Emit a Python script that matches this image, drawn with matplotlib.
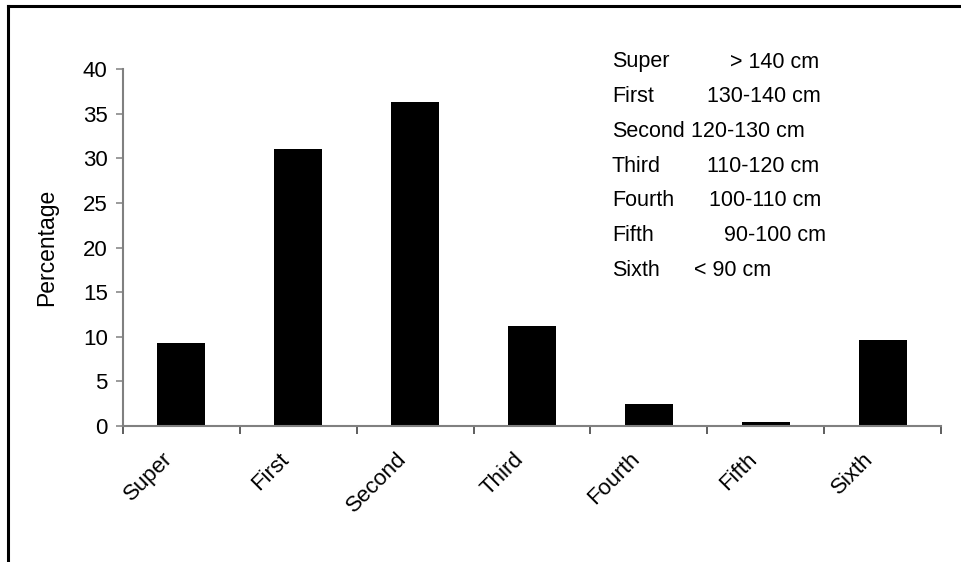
import matplotlib
matplotlib.use('Agg')
import matplotlib.pyplot as plt
import matplotlib.transforms as mtransforms
from matplotlib.lines import Line2D

plt.rcParams['font.family'] = ['Liberation Sans', 'DejaVu Sans']

# data
classes = ['Super', 'First', 'Second', 'Third', 'Fourth', 'Fifth', 'Sixth']
percent = [9.3, 31.0, 36.3, 11.2, 2.5, 0.5, 9.6]
ranges = ['> 140 cm', '130-140 cm', '120-130 cm', '110-120 cm', '100-110 cm', '90-100 cm', '< 90 cm']

FS = 16
W, H = 961, 562
fig = plt.figure(figsize=(W / 100, H / 100), dpi=100)

def fx(px):
    return px / W

def fy(py):
    return 1 - py / H

# axes box in pixels: x 123..941, y 69..426
ax = fig.add_axes([fx(123), fy(426), fx(941) - fx(123), fy(69) - fy(426)])

pos = [i + 0.5 for i in range(len(classes))]
ax.bar(pos, percent, width=0.41, color='black')

ax.set_xlim(0, len(classes))
ax.set_ylim(0, 40)
ax.set_yticks(range(0, 41, 5))
ax.set_xticks(range(len(classes) + 1))
ax.set_xticklabels([])
ax.set_xticks(pos, minor=True)
ax.set_xticklabels(classes, minor=True, rotation=45, ha='right', va='center',
                   rotation_mode='anchor', fontsize=FS)
ax.tick_params(axis='x', which='minor', length=0, pad=0)
ax.tick_params(axis='x', which='major', direction='out', length=6, width=1.1, color='#333333')
ax.tick_params(axis='y', direction='out', length=5, width=1.1, color='#808080', labelsize=FS, pad=6)

off = mtransforms.ScaledTranslation(-12 / 100, -30 / 100, fig.dpi_scale_trans)
for lbl in ax.get_xticklabels(minor=True):
    lbl.set_transform(lbl.get_transform() + off)

for s in ['top', 'right']:
    ax.spines[s].set_visible(False)
for s in ['left', 'bottom']:
    ax.spines[s].set_color('#808080')
    ax.spines[s].set_linewidth(1.5)

ax.set_ylabel('Percentage', fontsize=16.5)
ax.yaxis.set_label_coords((58 - 123) / 818, 0.5)

# class limits box
right_x = [730, 707, 691, 707, 709, 724, 694]
for i, (c, r) in enumerate(zip(classes, ranges)):
    y = 62 + 34.7 * i
    fig.text(fx(612), fy(y), c, fontsize=15.5, va='center', ha='left')
    fig.text(fx(right_x[i]), fy(y), r, fontsize=15.5, va='center', ha='left')

# frame lines round the picture (left and top only)
fig.add_artist(Line2D([fx(8), fx(8)], [fy(6), 0], color='black', lw=2.2))
fig.add_artist(Line2D([fx(8), 1], [fy(6), fy(6)], color='black', lw=2.2))

fig.savefig('out.png', dpi=100)
